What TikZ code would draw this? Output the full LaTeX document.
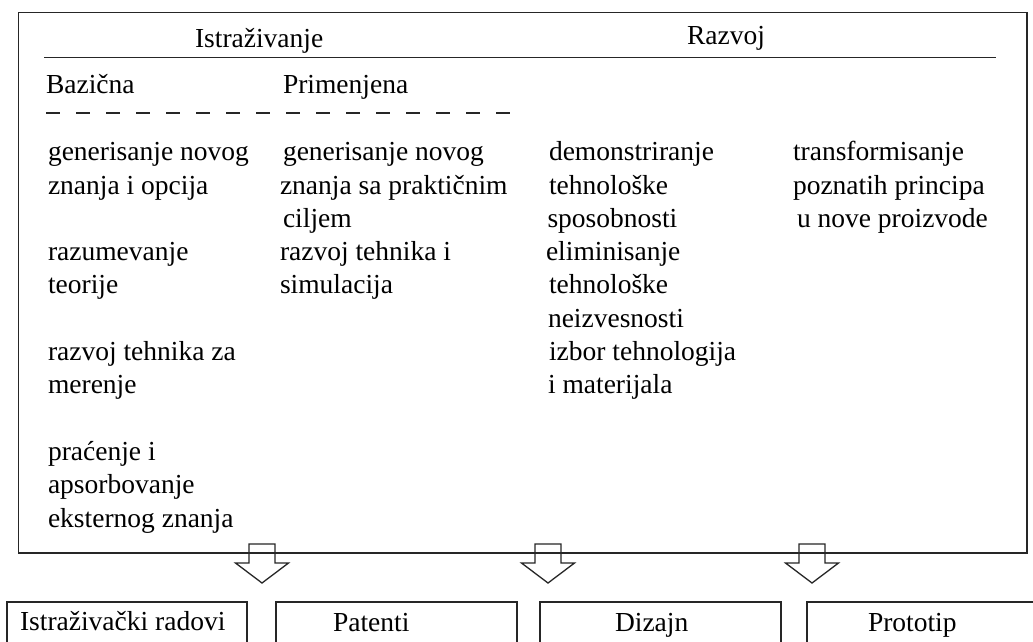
\documentclass[tikz,border=0pt]{standalone}
\usepackage{fontspec}
\setmainfont{Liberation Serif}
\begin{document}
\begin{tikzpicture}[x=1pt,y=-1pt,
  boxline/.style={draw=black!85,line width=1.4pt},
  panel/.style={boxline,inner sep=0pt,outer sep=0pt,anchor=north west},
  txt/.style={anchor=base west,inner sep=0pt,outer sep=0pt,
    font=\fontsize{27.5}{33}\selectfont},
  blockarrow/.pic={
    \draw[draw=black!85,line width=1.3pt,line join=miter]
      (-13,0) -- (-13,19) -- (-26.5,19) -- (0,39) -- (26.5,19)
      -- (13,19) -- (13,0) -- cycle;}
]
\clip (0,0) rectangle (1033,641);
\fill[white] (0,0) rectangle (1033,641);

% main frame
\node[panel,minimum width=1008.5pt,minimum height=540.5pt] (frame) at (18.5,12.5) {};

% headings and rules
\node[txt] (istr) at (195,47) {Istraživanje};
\node[txt] (razv) at (687,44) {Razvoj};
\coordinate (ruleL) at (44,57.5);
\coordinate (ruleR) at (996,57.5);
\draw[black!85,line width=1.3pt] (ruleL) -- (ruleR);
\node[txt] (baz) at (46,93) {Bazična};
\node[txt] (prim) at (283,93) {Primenjena};
\coordinate (dashL) at (46,113);
\coordinate (dashR) at (513,113);
\draw[black!85,line width=1.3pt,dash pattern=on 14pt off 16pt] (dashL) -- (dashR);

% column texts (line index / x / text)
\foreach \n/\x/\t in {0/48/generisanje novog, 1/48/znanja i opcija,
    3/48/razumevanje, 4/48/teorije, 6/48/razvoj tehnika za, 7/48/merenje,
    9/48/praćenje i, 10/48/apsorbovanje, 11/48/eksternog znanja}
  \node[txt] (a\n) at (\x,160.7+33.3*\n) {\t};
\foreach \n/\x/\t in {0/283/generisanje novog, 1/280/znanja sa praktičnim,
    2/283/ciljem, 3/280/razvoj tehnika i, 4/280/simulacija}
  \node[txt] (b\n) at (\x,160.7+33.3*\n) {\t};
\foreach \n/\x/\t in {0/549/demonstriranje, 1/549/tehnološke, 2/547.5/sposobnosti,
    3/546/eliminisanje, 4/549/tehnološke, 5/548/neizvesnosti,
    6/549/izbor tehnologija, 7/548/i materijala}
  \node[txt] (c\n) at (\x,160.7+33.3*\n) {\t};
\foreach \n/\x/\t in {0/793/transformisanje, 1/793/poznatih principa,
    2/797/u nove proizvode}
  \node[txt] (d\n) at (\x,160.7+33.3*\n) {\t};

% output arrows
\coordinate (ar1) at (262,544);
\coordinate (ar2) at (548,544);
\coordinate (ar3) at (812,544);
\pic at (ar1) {blockarrow};
\pic at (ar2) {blockarrow};
\pic at (ar3) {blockarrow};

% result boxes
\node[panel,minimum width=240pt,minimum height=70pt] (r1) at (7,602) {};
\node[panel,minimum width=241pt,minimum height=70pt] (r2) at (276,602) {};
\node[panel,minimum width=241pt,minimum height=70pt] (r3) at (540,602) {};
\node[panel,minimum width=243pt,minimum height=70pt] (r4) at (807,602) {};
\node[txt] (t1) at (20,630) {Istraživački radovi};
\node[txt] (t2) at (333,631) {Patenti};
\node[txt] (t3) at (615,631) {Dizajn};
\node[txt] (t4) at (868,631) {Prototip};
\end{tikzpicture}
\end{document}
